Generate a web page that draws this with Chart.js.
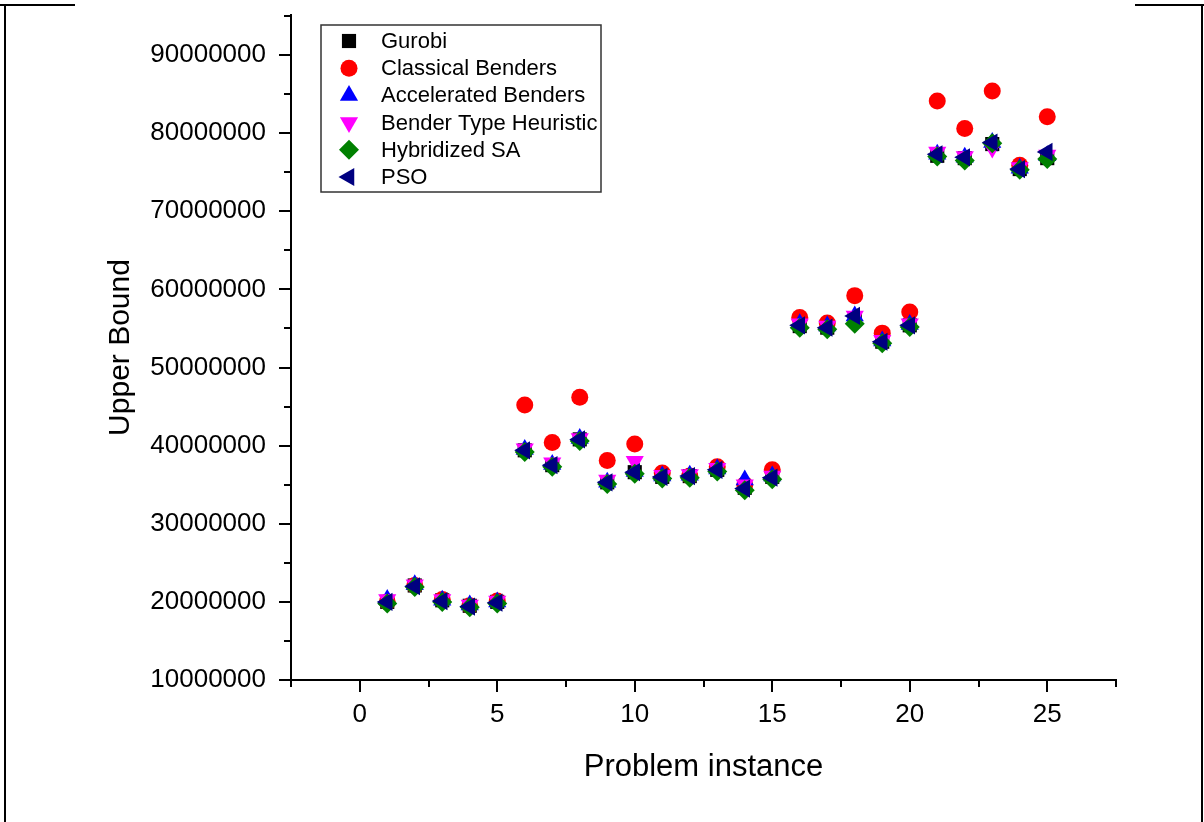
<!DOCTYPE html>
<html>
<head>
<meta charset="utf-8">
<script src="https://cdn.jsdelivr.net/npm/chart.js@4/dist/chart.umd.min.js"></script>
<style>
  html, body { margin: 0; padding: 0; background: #ffffff; }
  #wrap { position: relative; width: 1204px; height: 822px; }
  canvas { display: block; }
</style>
</head>
<body>
<div id="wrap"><canvas id="c" width="1204" height="822"></canvas></div>
<script>
// ---------- data (in units) ----------
const instances = [1,2,3,4,5,6,7,8,9,10,11,12,13,14,15,16,17,18,19,20,21,22,23,24,25];
const gurobi = [20.0e6,22.1e6,20.2e6,19.5e6,20.0e6,39.4e6,37.5e6,40.8e6,35.3e6,36.6e6,36.0e6,36.1e6,36.9e6,34.6e6,36.0e6,55.3e6,55.1e6,56.3e6,53.3e6,55.4e6,77.1e6,76.8e6,78.6e6,75.4e6,76.8e6];
const classicalBenders = [20.0e6,22.1e6,20.3e6,19.5e6,20.1e6,45.2e6,40.4e6,46.2e6,38.1e6,40.2e6,36.5e6,36.1e6,37.3e6,35.0e6,36.9e6,56.4e6,55.7e6,59.2e6,54.4e6,57.1e6,84.1e6,80.6e6,85.4e6,75.9e6,82.1e6];
const acceleratedBenders = [20.3e6,22.2e6,20.2e6,19.6e6,20.0e6,39.5e6,37.6e6,40.9e6,35.3e6,36.7e6,36.1e6,36.2e6,37.0e6,35.6e6,36.1e6,55.6e6,55.3e6,56.6e6,53.4e6,55.5e6,77.3e6,76.9e6,78.8e6,75.5e6,77.1e6];
const benderTypeHeuristic = [20.3e6,22.2e6,20.3e6,19.6e6,20.1e6,39.6e6,37.8e6,40.9e6,35.6e6,38.0e6,36.2e6,36.3e6,37.1e6,35.0e6,36.1e6,55.6e6,55.3e6,56.6e6,53.5e6,55.6e6,77.6e6,77.0e6,78.1e6,75.6e6,77.2e6];
const hybridizedSA = [19.8e6,21.9e6,20.0e6,19.3e6,19.8e6,39.2e6,37.3e6,40.6e6,35.1e6,36.4e6,35.8e6,35.9e6,36.7e6,34.3e6,35.7e6,55.1e6,54.9e6,55.6e6,53.1e6,55.2e6,77.0e6,76.5e6,78.7e6,75.3e6,76.7e6];
const pso = [20.0e6,22.0e6,20.1e6,19.4e6,19.9e6,39.4e6,37.5e6,40.8e6,35.3e6,36.6e6,36.0e6,36.1e6,36.9e6,34.5e6,35.9e6,55.4e6,55.1e6,56.6e6,53.3e6,55.4e6,77.3e6,76.9e6,78.8e6,75.4e6,77.6e6];

const seriesNames = ["Gurobi","Classical Benders","Accelerated Benders","Bender Type Heuristic","Hybridized SA","PSO"];
const yTickValues = [10000000,20000000,30000000,40000000,50000000,60000000,70000000,80000000,90000000];
const yMinorTickValues = [15000000,25000000,35000000,45000000,55000000,65000000,75000000,85000000,95000000];
const xTickValues = [0,5,10,15,20,25];
const xMinorTickValues = [-2.5,2.5,7.5,12.5,17.5,22.5,27.5];
const xTitle = "Problem instance";
const yTitle = "Upper Bound";

// ---------- styles ----------
const styles = [
  {color:'#000000', pointStyle:'rect', radius:10, rotation:0},
  {color:'#ff0000', pointStyle:'circle', radius:8.5, rotation:0},
  {color:'#0000ff', pointStyle:'triangle', radius:10.5, rotation:0},
  {color:'#ff00ff', pointStyle:'triangle', radius:10.5, rotation:180},
  {color:'#008000', pointStyle:'rectRot', radius:10, rotation:0},
  {color:'#000080', pointStyle:'triangle', radius:10.5, rotation:-90}
];
const allSeries = [gurobi, classicalBenders, acceleratedBenders, benderTypeHeuristic, hybridizedSA, pso];

const datasets = allSeries.map((vals, i) => ({
  label: seriesNames[i],
  data: instances.map((x, j) => ({x: x, y: vals[j]})),
  order: allSeries.length - 1 - i,
  showLine: false,
  pointStyle: styles[i].pointStyle,
  pointRadius: styles[i].radius,
  pointHoverRadius: styles[i].radius,
  pointRotation: styles[i].rotation,
  backgroundColor: styles[i].color,
  borderColor: styles[i].color,
  pointBorderWidth: 0
}));

const FONT = "'Liberation Sans', Arial, sans-serif";

const extrasPlugin = {
  id: 'extras',
  afterDraw(chart) {
    const ctx = chart.ctx;
    const xs = chart.scales.x, ys = chart.scales.y;
    const area = chart.chartArea;
    ctx.save();
    // minor ticks
    ctx.strokeStyle = '#000';
    ctx.lineWidth = 2;
    ctx.beginPath();
    yMinorTickValues.forEach(v => {
      const py = Math.round(ys.getPixelForValue(v));
      ctx.moveTo(area.left, py);
      ctx.lineTo(area.left - 7, py);
    });
    xMinorTickValues.forEach(v => {
      const px = Math.round(xs.getPixelForValue(v));
      ctx.moveTo(px, area.bottom);
      ctx.lineTo(px, area.bottom + 7);
    });
    ctx.stroke();

    // legend box
    const bx = 321, by = 25, bw = 280, bh = 167;
    ctx.fillStyle = '#ffffff';
    ctx.fillRect(bx, by, bw, bh);
    ctx.strokeStyle = '#333333';
    ctx.lineWidth = 1.5;
    ctx.strokeRect(bx, by, bw, bh);
    ctx.font = "22px " + FONT;
    ctx.textBaseline = 'middle';
    ctx.textAlign = 'left';
    seriesNames.forEach((name, i) => {
      const cy = 41 + i * 27.2;
      ctx.fillStyle = styles[i].color;
      ctx.strokeStyle = styles[i].color;
      Chart.helpers.drawPoint(ctx, {pointStyle: styles[i].pointStyle, radius: styles[i].radius, rotation: styles[i].rotation, borderWidth: 0}, 349, cy);
      ctx.fillStyle = '#000';
      ctx.fillText(name, 381, cy + 1);
    });

    // page frame
    ctx.strokeStyle = '#000';
    ctx.lineWidth = 2;
    ctx.beginPath();
    ctx.moveTo(0, 5); ctx.lineTo(75, 5);
    ctx.moveTo(1135, 5); ctx.lineTo(1204, 5);
    ctx.moveTo(5, 5); ctx.lineTo(5, 822);
    ctx.moveTo(1202, 5); ctx.lineTo(1202, 822);
    ctx.stroke();
    ctx.restore();
  }
};

function noPad(s) { s.paddingLeft = 0; s.paddingRight = 0; s.paddingTop = 0; s.paddingBottom = 0; }

new Chart(document.getElementById('c'), {
  type: 'scatter',
  data: { datasets: datasets },
  options: {
    responsive: false,
    animation: false,
    devicePixelRatio: 1,
    layout: { padding: { left: 103, right: 88, top: 15, bottom: 36 } },
    plugins: { legend: { display: false }, tooltip: { enabled: false } },
    scales: {
      x: {
        type: 'linear',
        min: -2.5, max: 27.5,
        afterFit(s) { s.height = 106; noPad(s); },
        afterBuildTicks(s) { s.ticks = xTickValues.map(v => ({value: v})); },
        grid: { drawOnChartArea: false, drawTicks: true, tickLength: 12, color: '#000', lineWidth: 2 },
        border: { display: true, color: '#000', width: 2 },
        ticks: { color: '#000', font: { family: FONT, size: 26 }, padding: 7, autoSkip: false, maxRotation: 0, callback: v => String(v) },
        title: { display: true, text: xTitle, color: '#000', font: { family: FONT, size: 31 }, padding: 0 }
      },
      y: {
        type: 'linear',
        min: 10000000, max: 95120000,
        afterFit(s) { s.width = 188; noPad(s); },
        afterBuildTicks(s) { s.ticks = yTickValues.map(v => ({value: v})); },
        grid: { drawOnChartArea: false, drawTicks: true, tickLength: 12, color: '#000', lineWidth: 2 },
        border: { display: true, color: '#000', width: 2 },
        ticks: { color: '#000', font: { family: FONT, size: 26 }, padding: 13, autoSkip: false, callback: v => String(v) },
        title: { display: true, text: yTitle, color: '#000', font: { family: FONT, size: 30 }, padding: 0 }
      }
    }
  },
  plugins: [extrasPlugin]
});
</script>
</body>
</html>
